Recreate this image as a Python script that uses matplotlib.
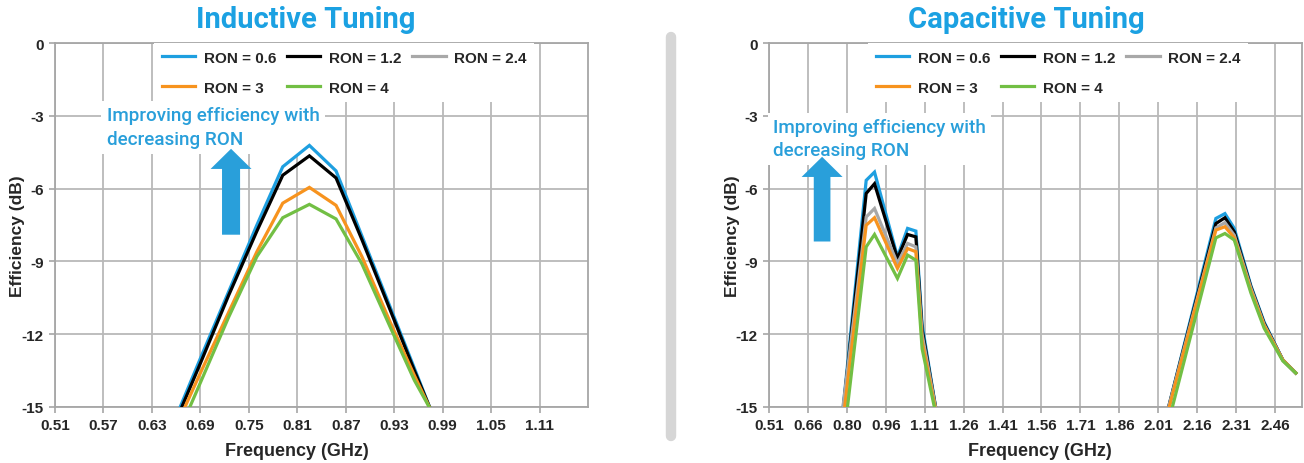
import numpy as np
import matplotlib
matplotlib.use("Agg")
import matplotlib.pyplot as plt
from matplotlib.lines import Line2D

# ---------------- data ----------------
series_names = ["RON = 0.6", "RON = 1.2", "RON = 2.4", "RON = 3", "RON = 4"]
series_colors = ["#1E9FE0", "#000000", "#A8A8A8", "#F7931E", "#72BF44"]

# Inductive tuning (GHz, dB)
ind_freq = [0.660, 0.690, 0.725, 0.760, 0.792, 0.825, 0.858, 0.890, 0.925, 0.955, 0.975]
ind_ron06 = [-15.4, -13.0, -10.25, -7.5, -5.1, -4.22, -5.27, -7.95, -10.88, -13.4, -15.1]
ind_ron12 = [-15.55, -13.2, -10.4, -7.75, -5.45, -4.65, -5.56, -8.1, -11.0, -13.5, -15.1]
ind_ron24 = []  # not visible in the chart (legend only)
ind_ron3 = [-15.8, -13.6, -11.1, -8.6, -6.6, -5.95, -6.69, -8.8, -11.5, -13.7, -15.1]
ind_ron4 = [-16.3, -14.0, -11.3, -8.8, -7.2, -6.65, -7.25, -9.1, -11.7, -13.9, -15.1]

# Capacitive tuning (GHz, dB) - nan marks the gap between the two bands
cap_freq = [0.795, 0.8845, 0.9166, 1.005, 1.044, 1.076, 1.100, 1.155, 1.6,
            2.05, 2.232, 2.267, 2.303, 2.367, 2.418, 2.49, 2.54]
cap_ron06 = [-15.1, -5.66, -5.32, -8.81, -7.64, -7.75, -11.6, -15.2, np.nan,
             -15.0, -7.23, -7.03, -7.64, -10.0, -11.5, -13.06, -13.6]
cap_ron12 = [-15.2, -6.2, -5.8, -8.88, -7.89, -7.99, -11.8, -15.2, np.nan,
             -15.0, -7.44, -7.2, -7.78, -10.05, -11.55, -13.06, -13.6]
cap_ron24 = [-15.0, -7.17, -6.82, -9.08, -8.26, -8.4, -12.0, -15.2, np.nan,
             -15.0, -7.62, -7.4, -7.92, -10.1, -11.6, -13.06, -13.6]
cap_ron3 = [-15.6, -7.51, -7.2, -9.29, -8.47, -8.6, -12.3, -15.3, np.nan,
            -15.1, -7.71, -7.57, -8.03, -10.2, -11.65, -13.06, -13.6]
cap_ron4 = [-16.6, -8.4, -7.89, -9.7, -8.74, -8.95, -12.6, -15.4, np.nan,
            -15.6, -8.03, -7.85, -8.12, -10.3, -11.75, -13.1, -13.6]

ind_xticks = [0.51, 0.57, 0.63, 0.69, 0.75, 0.81, 0.87, 0.93, 0.99, 1.05, 1.11]
ind_xlabels = ["0.51", "0.57", "0.63", "0.69", "0.75", "0.81", "0.87", "0.93", "0.99", "1.05", "1.11"]
cap_xticks = [0.51, 0.66, 0.81, 0.96, 1.11, 1.26, 1.41, 1.56, 1.71, 1.86, 2.01, 2.16, 2.31, 2.46]
cap_xlabels = ["0.51", "0.66", "0.80", "0.96", "1.11", "1.26", "1.41", "1.56", "1.71", "1.86",
               "2.01", "2.16", "2.31", "2.46"]
yticks = [0, -3, -6, -9, -12, -15]

# ---------------- style ----------------
W, H = 1304, 464
COND = ["Liberation Sans Narrow", "Liberation Sans", "DejaVu Sans"]
ARIAL = ["Liberation Sans", "DejaVu Sans"]
TITLEF = ["Roboto", "DejaVu Sans"]
BLUE_T = "#1BA1E2"
BLUE_A = "#299FDA"
GRID = "#B9B9B9"
TXT = "#262626"

fig = plt.figure(figsize=(W / 100, H / 100), dpi=100)


def fx(px):
    return px / W


def fy(py):
    return 1 - py / H


def setup(ax, xlim, xticks, xlabels):
    ax.set_xlim(*xlim)
    ax.set_ylim(-15, 0)
    ax.set_xticks(xticks)
    ax.set_xticklabels(xlabels, family=COND, fontsize=11, weight="bold", color=TXT)
    ax.set_yticks(yticks)
    ax.set_yticklabels([str(v) for v in yticks], family=COND, fontsize=11, weight="bold",
                       color=TXT)
    ax.grid(True, color=GRID, lw=1.3, zorder=0)
    ax.set_axisbelow(True)
    for s in ax.spines.values():
        s.set_color("#A6A6A6")
        s.set_linewidth(1.3)
    ax.tick_params(length=4, width=1.2, color="#A6A6A6", pad=4)


def legend(ax, handles, x_anchor):
    order = [0, 3, 1, 4, 2]
    hs = [handles[i] for i in order]
    leg = ax.legend(hs, [series_names[i] for i in order], ncol=3, loc="upper left",
                    bbox_to_anchor=(x_anchor, 1.0), borderaxespad=0, frameon=True,
                    fancybox=False, framealpha=1, edgecolor="none", facecolor="white",
                    prop=dict(family=ARIAL, weight="bold", size=11),
                    handlelength=2.2, handletextpad=0.55, columnspacing=0.7,
                    labelspacing=1.05, borderpad=0.5)
    for t in leg.get_texts():
        t.set_color(TXT)
    leg.set_zorder(6)
    return leg


# ---------------- inductive ----------------
ax1 = fig.add_axes([fx(55), fy(408), fx(533), 364 / H])
setup(ax1, (0.51, 1.17), ind_xticks, ind_xlabels)
ind_data = [ind_ron06, ind_ron12, ind_ron24, ind_ron3, ind_ron4]
h1 = []
for vals, c in zip(ind_data, series_colors):
    if len(vals):
        ln, = ax1.plot(ind_freq[:len(vals)], vals, color=c, lw=2.3, zorder=4,
                       solid_joinstyle="miter")
    else:
        ln = Line2D([], [], color=c, lw=2.3)
    h1.append(ln)
legend(ax1, h1, 0.186)
ax1.text(0.097, 0.826, "Improving efficiency with\ndecreasing RON", transform=ax1.transAxes,
         ha="left", va="top", fontsize=13.6, family=TITLEF, weight="medium", color=BLUE_A,
         linespacing=1.42, zorder=3,
         bbox=dict(facecolor="white", edgecolor="none", pad=4))
ax1.annotate("", xy=(0.728, -4.36), xytext=(0.728, -7.9),
             arrowprops=dict(arrowstyle="simple,head_length=1.45,head_width=2.95,tail_width=1.3",
                             mutation_scale=10, color=BLUE_A, shrinkA=0, shrinkB=0, lw=0),
             zorder=3.5)

# ---------------- capacitive ----------------
ax2 = fig.add_axes([fx(769), fy(408), fx(532.5), 364 / H])
setup(ax2, (0.51, 2.562), cap_xticks, cap_xlabels)
cap_data = [cap_ron06, cap_ron12, cap_ron24, cap_ron3, cap_ron4]
h2 = []
for vals, c in zip(cap_data, series_colors):
    ln, = ax2.plot(cap_freq, vals, color=c, lw=2.3, zorder=4, solid_joinstyle="miter")
    h2.append(ln)
legend(ax2, h2, 0.186)
ax2.text(0.0075, 0.793, "Improving efficiency with\ndecreasing RON", transform=ax2.transAxes,
         ha="left", va="top", fontsize=13.6, family=TITLEF, weight="medium", color=BLUE_A,
         linespacing=1.35, zorder=3,
         bbox=dict(facecolor="white", edgecolor="none", pad=4))
ax2.annotate("", xy=(0.7146, -4.69), xytext=(0.7146, -8.18),
             arrowprops=dict(arrowstyle="simple,head_length=1.45,head_width=2.95,tail_width=1.2",
                             mutation_scale=10, color=BLUE_A, shrinkA=0, shrinkB=0, lw=0),
             zorder=3.5)

# ---------------- titles & labels ----------------
fig.text(fx(306), fy(20), "Inductive Tuning", ha="center", va="center", fontsize=21,
         weight="bold", family=TITLEF, color=BLUE_T)
fig.text(fx(1026), fy(20), "Capacitive Tuning", ha="center", va="center", fontsize=21,
         weight="bold", family=TITLEF, color=BLUE_T)
for xc in (297, 1040):
    fig.text(fx(xc), fy(452), "Frequency (GHz)", ha="center", va="center", fontsize=13,
             family=ARIAL, weight="bold", color=TXT)
for xc in (18, 732):
    fig.text(fx(xc), fy(236), "Efficiency (dB)", ha="center", va="center", rotation=90,
             fontsize=12.5, family=ARIAL, weight="bold", color=TXT)

# separator
fig.add_artist(Line2D([fx(671), fx(671)], [fy(38), fy(437)], color="#D6D6D6", lw=7.5,
                      solid_capstyle="round", transform=fig.transFigure))

fig.savefig("out.png", dpi=100)
